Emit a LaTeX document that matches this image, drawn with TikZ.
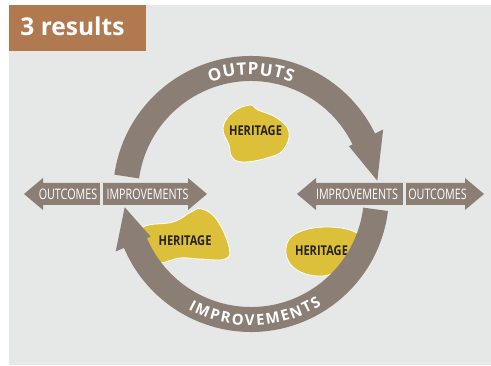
\documentclass[tikz,border=0pt]{standalone}
\usepackage{fontspec}
\setmainfont{Open Sans}
\newfontfamily\condfont{Open Sans}[FakeStretch=0.74]
\newfontfamily\blobfont{Open Sans}[FakeStretch=0.82]
\usetikzlibrary{calc,decorations.text}
\definecolor{sfondo}{RGB}{230,232,231}
\definecolor{titolo}{RGB}{177,121,80}
\definecolor{fascia}{RGB}{139,126,117}
\definecolor{giallo}{RGB}{221,192,58}
\definecolor{scuro}{RGB}{38,34,30}

\begin{document}
\begin{tikzpicture}[x=1pt, y=1pt,
    fascia/.style={draw=fascia, line width=25pt},
    punta/.style={fill=fascia},
    macchia/.style={fill=giallo, draw=white, line width=0.8pt},
    eredita/.style={anchor=base, inner sep=0pt, text=scuro, font=\blobfont\bfseries\fontsize{13.5}{14}\selectfont},
    freccia/.style={fill=fascia},
    voce/.style={anchor=base, inner sep=0pt, text=white, font=\condfont\fontsize{14.5}{15}\selectfont}]
    \useasboundingbox (0,0) rectangle (491,365);

    % Sfondo e titolo
    \fill[sfondo] (9,0) rectangle (491,360);
    \fill[titolo] (9,314) rectangle (146,360);
    \node[anchor=base, inner sep=0pt, text=white, font=\bfseries\fontsize{24.5}{28}\selectfont] (titolo) at (72.5,329) {3 results};

    \coordinate (hub) at (251,171);

    % Macchie
    \draw[macchia] plot[smooth cycle, tension=0.7] coordinates {(233,253) (250,260) (258,255) (277,247) (289,233) (283,215) (267,207) (243,203) (232,208) (229,220) (223,237)};
    \draw[macchia] plot[smooth cycle, tension=0.7] coordinates {(143,138) (173,143) (191,153) (202,156) (217,145) (229,118) (225,106) (200,106) (180,107) (160,102) (140,103) (133,120)};
    \draw[macchia] plot[smooth cycle, tension=0.7] coordinates {(286,117) (297,132) (327,138) (357,132) (368,115) (340,95) (317,89) (293,98)};
    \node[eredita] (ered1) at (255.5,229) {HERITAGE};
    \node[eredita] (ered2) at (185,120) {HERITAGE};
    \node[eredita] (ered3) at (321.5,110) {HERITAGE};

    % Anello
    \draw[fascia] ($(hub)+(172:125.5)$) arc[start angle=172, end angle=25.5, radius=125.5];
    \fill[punta] ($(hub)+(26:109)$) -- ($(hub)+(6:127)$) -- ($(hub)+(26:147)$) -- cycle;
    \draw[fascia] ($(hub)+(-7:125.5)$) arc[start angle=-7, end angle=-157.5, radius=125.5];
    \fill[punta] ($(hub)+(203:109)$) -- ($(hub)+(186:127)$) -- ($(hub)+(203:147)$) -- cycle;

    % Scritte sull'anello
    \path[decorate, decoration={text along path, text color=white, text align=center,
        text={|\bfseries\fontsize{17}{17}\selectfont|{O\kern0.8pt}{U\kern0.8pt}{T\kern0.8pt}{P\kern0.8pt}{U\kern0.8pt}{T\kern0.8pt}S}}]
        ($(hub)+(170:119)$) arc[start angle=170, end angle=10, radius=119];
    \path[decorate, decoration={text along path, text color=white, text align=center,
        text={|\bfseries\fontsize{15}{15}\selectfont|{I\kern1.8pt}{M\kern1.8pt}{P\kern1.8pt}{R\kern1.8pt}{O\kern1.8pt}{V\kern1.8pt}{E\kern1.8pt}{M\kern1.8pt}{E\kern1.8pt}{N\kern1.8pt}{T\kern1.8pt}S}}]
        ($(hub)+(200:131.5)$) arc[start angle=200, end angle=344, radius=131.5];

    % Frecce orizzontali
    \fill[freccia] (24,171) -- (43,187) -- (43,182) -- (188,182) -- (188,187) -- (207,171) -- (188,155) -- (188,160) -- (43,160) -- (43,155) -- cycle;
    \fill[freccia] (297,171) -- (316,187) -- (316,182) -- (465,182) -- (465,187) -- (484,171) -- (465,155) -- (465,160) -- (316,160) -- (316,155) -- cycle;
    \draw[sfondo, line width=2.5pt] (101.5,160) -- (101.5,182);
    \draw[sfondo, line width=2.5pt] (404.5,160) -- (404.5,182);
    \node[voce] (esitiL) at (68,165) {OUTCOMES};
    \node[voce] (miglL) at (147.5,165) {IMPROVEMENTS};
    \node[voce] (miglR) at (357,165) {IMPROVEMENTS};
    \node[voce] (esitiR) at (437.5,165) {OUTCOMES};
\end{tikzpicture}
\end{document}
